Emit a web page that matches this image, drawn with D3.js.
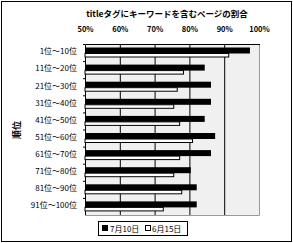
<!DOCTYPE html>
<html>
<head>
<meta charset="utf-8">
<script src="https://cdn.jsdelivr.net/npm/d3@7"></script>
<style>
body{margin:0;background:#fff;}
text{font-family:"Noto Sans CJK JP","DejaVu Sans",sans-serif;fill:#000;}
</style>
</head>
<body>
<svg width="293" height="243"></svg>
<script>
const categories=['1位～10位','11位～20位','21位～30位','31位～40位','41位～50位','51位～60位','61位～70位','71位～80位','81位～90位','91位～100位'];
const july10=[97.4,84.4,86.2,86.2,84.4,87.4,86.2,80.4,82.1,82.1];
const june15=[91.3,78.3,76.5,75.5,77.2,80.9,77.2,75.5,77.8,72.5];
const ticks=[50,60,70,80,90,100];
const seriesNames=['7月10日','6月15日'];

const svg=d3.select('svg');
const width=+svg.attr('width');
const height=+svg.attr('height');
const plot={left:85,right:259,top:44,bottom:215};

// outer frame
svg.append('rect')
  .attr('x',1.5).attr('y',1.5)
  .attr('width',width-3).attr('height',height-3)
  .attr('fill','#fff').attr('stroke','#000').attr('stroke-width',1);

svg.append('text')
  .attr('x',167).attr('y',17)
  .attr('text-anchor','middle')
  .attr('font-size',8.5).attr('font-weight','bold')
  .text('titleタグにキーワードを含むページの割合');

const x=d3.scaleLinear().domain([50,100]).range([plot.left,plot.right]);
const y=d3.scaleBand().domain(categories).range([plot.top,plot.bottom]);

// plot background
svg.append('rect')
  .attr('x',plot.left).attr('y',plot.top)
  .attr('width',plot.right-plot.left).attr('height',plot.bottom-plot.top)
  .attr('fill','#f0f0f0');

// grid
svg.append('g').selectAll('line')
  .data(ticks.slice(1,-1)).join('line')
  .attr('x1',d=>x(d)+0.5).attr('x2',d=>x(d)+0.5)
  .attr('y1',plot.top).attr('y2',plot.bottom)
  .attr('stroke','#000');

// plot border: gray bottom/right, black top/left
svg.append('path')
  .attr('d',`M${plot.right+0.5},${plot.top}V${plot.bottom+0.5}H${plot.left}`)
  .attr('fill','none').attr('stroke','#999');
svg.append('path')
  .attr('d',`M${plot.left+0.5},${plot.bottom}V${plot.top+0.5}H${plot.right+1}`)
  .attr('fill','none').attr('stroke','#000');

// top axis
const xAxis=d3.axisTop(x).tickValues(ticks).tickSize(0).tickFormat(d=>d+'%');
const gx=svg.append('g').attr('transform',`translate(0,${plot.top-9})`).call(xAxis);
gx.select('.domain').remove();
gx.selectAll('text').attr('font-size',7.5).attr('font-weight','bold').attr('font-family','"DejaVu Sans",sans-serif');

// category labels
svg.append('g').selectAll('text')
  .data(categories).join('text')
  .attr('x',77).attr('y',d=>y(d)+y.bandwidth()/2-1)
  .attr('dy','0.35em')
  .attr('text-anchor','end')
  .attr('font-size',8)
  .text(d=>d);

// small ticks on left axis
svg.append('g').selectAll('line')
  .data(categories).join('line')
  .attr('x1',plot.left-2).attr('x2',plot.left)
  .attr('y1',d=>y(d)+0.5).attr('y2',d=>y(d)+0.5)
  .attr('stroke','#000');

// y title
svg.append('text')
  .attr('transform','translate(20,130)rotate(-90)')
  .attr('text-anchor','middle')
  .attr('font-size',9).attr('font-weight','bold')
  .text('順位');

// bars
const bars=svg.append('g');
bars.selectAll('rect.a')
  .data(categories).join('rect')
  .attr('class','a')
  .attr('x',plot.left)
  .attr('y',d=>y(d)+3.5)
  .attr('width',(d,i)=>x(july10[i])-plot.left)
  .attr('height',6)
  .attr('fill','#000');
bars.selectAll('rect.b')
  .data(categories).join('rect')
  .attr('class','b')
  .attr('x',plot.left)
  .attr('y',d=>y(d)+9.5)
  .attr('width',(d,i)=>x(june15[i])-plot.left)
  .attr('height',3.5)
  .attr('fill','#fff').attr('stroke','#000').attr('stroke-width',1);

// legend
const lg=svg.append('g');
lg.append('rect')
  .attr('x',98.5).attr('y',221.5).attr('width',89).attr('height',14)
  .attr('fill','#fff').attr('stroke','#000');
lg.append('rect').attr('x',102).attr('y',225).attr('width',6).attr('height',6).attr('fill','#000');
lg.append('text').attr('x',110).attr('y',231.5).attr('font-size',8).text(seriesNames[0]);
lg.append('rect').attr('x',145.5).attr('y',225.5).attr('width',5).attr('height',5).attr('fill','#fff').attr('stroke','#000');
lg.append('text').attr('x',152).attr('y',231.5).attr('font-size',8).text(seriesNames[1]);
</script>
</body>
</html>
